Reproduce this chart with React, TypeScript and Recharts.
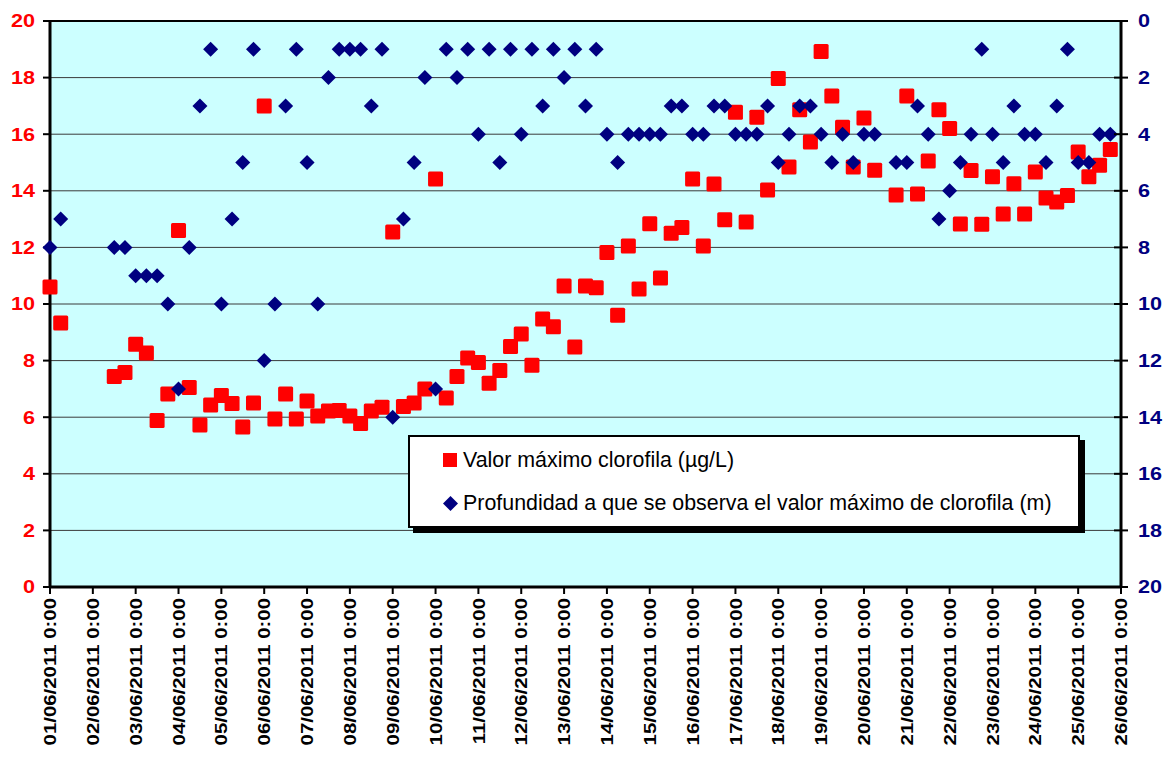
import React from 'react'
import { ScatterChart, Scatter, XAxis, YAxis, CartesianGrid, ReferenceLine, Legend } from 'recharts'

// time of each sample, in days after 01/06/2011 0:00
const dayOffsets = [
    0, 0.25,
    1.5, 1.75, 2, 2.25, 2.5, 2.75, 3, 3.25, 3.5, 3.75, 4, 4.25, 4.5, 4.75,
    5, 5.25, 5.5, 5.75, 6, 6.25, 6.5, 6.75, 7, 7.25, 7.5, 7.75, 8, 8.25, 8.5, 8.75,
    9, 9.25, 9.5, 9.75, 10, 10.25, 10.5, 10.75, 11, 11.25, 11.5, 11.75, 12, 12.25, 12.5, 12.75,
    13, 13.25, 13.5, 13.75, 14, 14.25, 14.5, 14.75, 15, 15.25, 15.5, 15.75, 16, 16.25, 16.5, 16.75,
    17, 17.25, 17.5, 17.75, 18, 18.25, 18.5, 18.75, 19, 19.25,
    19.75, 20, 20.25, 20.5, 20.75, 21, 21.25, 21.5, 21.75, 22, 22.25, 22.5, 22.75,
    23, 23.25, 23.5, 23.75, 24, 24.25, 24.5, 24.75,
]

// Valor máximo clorofila (µg/L)
const chlorophyll = [
    10.6, 9.33,
    7.44, 7.58, 8.58, 8.27, 5.88, 6.82, 12.6, 7.05, 5.72, 6.43, 6.77, 6.48, 5.65, 6.5,
    17.0, 5.94, 6.82, 5.94, 6.57, 6.04, 6.22, 6.24, 6.04, 5.78, 6.22, 6.35, 12.54, 6.38, 6.5, 7.0,
    14.42, 6.68, 7.44, 8.09, 7.93, 7.2, 7.65, 8.5, 8.94, 7.84, 9.47, 9.2, 10.64, 8.48, 10.64, 10.57,
    11.82, 9.6, 12.05, 10.53, 12.84, 10.92, 12.5, 12.7, 14.42, 12.05, 14.24, 12.98, 16.78, 12.9, 16.6, 14.03,
    17.97, 14.84, 16.86, 15.72, 18.92, 17.35, 16.25, 14.84, 16.57, 14.73,
    13.85, 17.35, 13.89, 15.05, 16.86, 16.2, 12.83, 14.72, 12.82, 14.5, 13.18, 14.25, 13.18,
    14.66, 13.75, 13.6, 13.83, 15.37, 14.5, 14.9, 15.46,
]

// Profundidad a que se observa el valor máximo de clorofila (m)
const depth = [
    8, 7,
    8, 8, 9, 9, 9, 10, 13, 8, 3, 1, 10, 7, 5, 1,
    12, 10, 3, 1, 5, 10, 2, 1, 1, 1, 3, 1, 14, 7, 5, 2,
    13, 1, 2, 1, 4, 1, 5, 1, 4, 1, 3, 1, 2, 1, 3, 1,
    4, 5, 4, 4, 4, 4, 3, 3, 4, 4, 3, 3, 4, 4, 4, 3,
    5, 4, 3, 3, 4, 5, 4, 5, 4, 4,
    5, 5, 3, 4, 7, 6, 5, 4, 1, 4, 5, 3, 4,
    4, 5, 3, 1, 5, 5, 4, 4,
]

const dayLabels = [
    '01/06/2011 0:00', '02/06/2011 0:00', '03/06/2011 0:00', '04/06/2011 0:00', '05/06/2011 0:00',
    '06/06/2011 0:00', '07/06/2011 0:00', '08/06/2011 0:00', '09/06/2011 0:00', '10/06/2011 0:00',
    '11/06/2011 0:00', '12/06/2011 0:00', '13/06/2011 0:00', '14/06/2011 0:00', '15/06/2011 0:00',
    '16/06/2011 0:00', '17/06/2011 0:00', '18/06/2011 0:00', '19/06/2011 0:00', '20/06/2011 0:00',
    '21/06/2011 0:00', '22/06/2011 0:00', '23/06/2011 0:00', '24/06/2011 0:00', '25/06/2011 0:00',
    '26/06/2011 0:00',
]

const valueTicks = [0, 2, 4, 6, 8, 10, 12, 14, 16, 18, 20]

const FONT = 'Arial, "Liberation Sans", sans-serif'
const RED = '#FF0000'
const NAVY = '#000080'

const chlData = dayOffsets.map((t, i) => ({ t, v: chlorophyll[i] }))
const depthData = dayOffsets.map((t, i) => ({ t, v: depth[i] }))

const Square = (props: any) => {
    const { cx, cy } = props
    return <rect x={cx - 7.5} y={cy - 7.5} width={15} height={15} rx={1.5} fill={RED} />
}

const Diamond = (props: any) => {
    const { cx, cy } = props
    const r = 7.5
    return <polygon points={`${cx},${cy - r} ${cx + r},${cy} ${cx},${cy + r} ${cx - r},${cy}`} fill={NAVY} />
}

const DateTick = (props: any) => {
    const { x, y, payload } = props
    return (
        <g transform={`translate(${x},${y})`}>
            <text transform="rotate(-90) scale(1.2,1)" textAnchor="end" dy="0.36em"
                fontFamily={FONT} fontSize={17} fontWeight="bold" fill="#000">
                {dayLabels[payload.value]}
            </text>
        </g>
    )
}

const LeftTick = (props: any) => {
    const { x, y, payload } = props
    return (
        <text transform={`translate(${x},${y}) scale(1.2,1)`} textAnchor="end" dy="0.36em"
            fontFamily={FONT} fontSize={18} fontWeight="bold" fill={RED}>
            {payload.value}
        </text>
    )
}

const RightTick = (props: any) => {
    const { x, y, payload } = props
    return (
        <g>
            <line x1={x - 24} x2={x - 17} y1={y} y2={y} stroke="#000" strokeWidth={2} />
            <text transform={`translate(${x},${y}) scale(1.2,1)`} textAnchor="start" dy="0.36em"
                fontFamily={FONT} fontSize={18} fontWeight="bold" fill={NAVY}>
                {payload.value}
            </text>
        </g>
    )
}

const LegendBox = () => (
    <div style={{
        width: 672, height: 93, boxSizing: 'border-box', background: '#fff',
        border: '2px solid #000', boxShadow: '5px 5px 0 #000', position: 'relative',
        fontFamily: FONT, fontSize: 21.4, color: '#000',
    }}>
        <div style={{ position: 'absolute', left: 33, top: 23 - 12, height: 24, display: 'flex', alignItems: 'center', whiteSpace: 'nowrap' }}>
            <span style={{ display: 'inline-block', width: 14, height: 14, background: RED, marginRight: 6 }} />
            Valor máximo clorofila (µg/L)
        </div>
        <div style={{ position: 'absolute', left: 33, top: 66 - 12, height: 24, display: 'flex', alignItems: 'center', whiteSpace: 'nowrap' }}>
            <svg width={15} height={15} style={{ marginRight: 5 }}>
                <polygon points="7.5,0 15,7.5 7.5,15 0,7.5" fill={NAVY} />
            </svg>
            Profundidad a que se observa el valor máximo de clorofila (m)
        </div>
    </div>
)

export default function App() {
    return (
        <div style={{ width: 1165, height: 758 }}>
            <style>{'body{margin:0}'}</style>
            <ScatterChart width={1165} height={758} margin={{ top: 21, right: 0, bottom: 0, left: 0 }}>
                <CartesianGrid yAxisId="left" vertical={false} fill="#CCFFFF" fillOpacity={1} stroke="#3a3a3a" strokeWidth={1} />
                <XAxis
                    type="number"
                    dataKey="t"
                    domain={[0, 25]}
                    ticks={dayLabels.map((_, i) => i)}
                    interval={0}
                    height={171}
                    tickSize={7}
                    tickMargin={4}
                    tick={<DateTick />}
                    axisLine={{ stroke: '#000', strokeWidth: 3 }}
                    tickLine={{ stroke: '#000', strokeWidth: 2 }}
                />
                <YAxis
                    yAxisId="left"
                    type="number"
                    dataKey="v"
                    domain={[0, 20]}
                    ticks={valueTicks}
                    interval={0}
                    width={50}
                    tickSize={7}
                    tickMargin={8}
                    tick={<LeftTick />}
                    axisLine={{ stroke: '#000', strokeWidth: 3 }}
                    tickLine={{ stroke: '#000', strokeWidth: 2 }}
                />
                <YAxis
                    yAxisId="right"
                    orientation="right"
                    type="number"
                    dataKey="v"
                    domain={[0, 20]}
                    reversed
                    ticks={valueTicks}
                    interval={0}
                    width={44}
                    tickSize={7}
                    tickMargin={10}
                    tick={<RightTick />}
                    axisLine={{ stroke: '#000', strokeWidth: 3 }}
                    tickLine={{ stroke: '#000', strokeWidth: 2 }}
                />
                <ReferenceLine yAxisId="left" y={20} stroke="#000" strokeWidth={2} />
                <Scatter name="Valor máximo clorofila (µg/L)" data={chlData} yAxisId="left"
                    shape={<Square />} fill={RED} isAnimationActive={false} />
                <Scatter name="Profundidad a que se observa el valor máximo de clorofila (m)" data={depthData} yAxisId="right"
                    shape={<Diamond />} fill={NAVY} isAnimationActive={false} />
                <Legend layout="vertical" align="center" verticalAlign="middle" content={<LegendBox />}
                    wrapperStyle={{ left: 408, top: 435, width: 672, height: 93 }} />
            </ScatterChart>
        </div>
    )
}
